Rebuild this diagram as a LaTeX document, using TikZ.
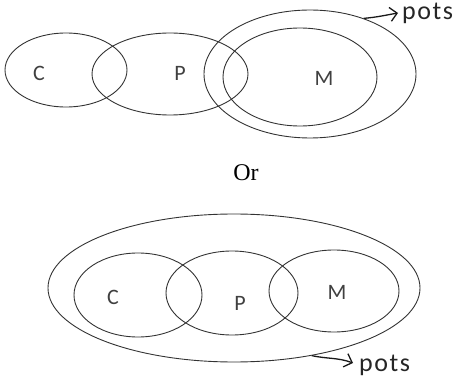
\documentclass[tikz,border=0pt]{standalone}
\usepackage{fontspec}
\setmainfont{Liberation Serif}
\newfontfamily\lblfont{Carlito}
\newfontfamily\potsfont[LetterSpace=6]{Carlito}
\usetikzlibrary{shapes.geometric,arrows.meta}
\tikzset{
  setell/.style={draw=black!80, line width=0.9pt, ellipse, inner sep=0pt},
  lbl/.style={font=\lblfont\fontsize{22}{22}\selectfont, text=black!75, inner sep=0pt},
  potslbl/.style={font=\potsfont\fontsize{26}{26}\selectfont, text=black!85, inner sep=0pt},
  potsarrow/.style={draw=black!90, line width=1.3pt, -{Straight Barb[length=7pt,width=14pt]}}
}
\begin{document}
\begin{tikzpicture}[x=1pt,y=-1pt]
\useasboundingbox (0,0) rectangle (461,385);
% top diagram
\node[setell, minimum width=122pt, minimum height=74pt] (cT) at (66,70) {};
\node[setell, minimum width=156pt, minimum height=82pt] (pT) at (170,74) {};
\node[setell, minimum width=154pt, minimum height=98pt] (mT) at (300,77) {};
\node[setell, minimum width=212pt, minimum height=128pt] (oT) at (310,74) {};
\node[lbl] (cTl) at (39,73) {C};
\node[lbl] (pTl) at (180,73) {P};
\node[lbl] (mTl) at (324,78) {M};
\node[potslbl, anchor=base west] (potsT) at (402,20) {pots};
\coordinate (potsTin) at ([xshift=-4pt,yshift=7pt]potsT.base west);
\draw[potsarrow] (oT.46) to[out=5,in=190] (potsTin);
% or
\node[font=\fontsize{24}{24}\selectfont, inner sep=0pt] (orl) at (246,173) {Or};
% bottom diagram
\node[setell, minimum width=372pt, minimum height=148pt] (oB) at (234,288) {};
\node[setell, minimum width=128pt, minimum height=84pt] (cB) at (138,295) {};
\node[setell, minimum width=132pt, minimum height=84pt] (pB) at (232,293) {};
\node[setell, minimum width=130pt, minimum height=82pt] (mB) at (334,291) {};
\node[lbl] (cBl) at (113,297) {C};
\node[lbl] (pBl) at (240,303) {P};
\node[lbl] (mBl) at (337,292) {M};
\node[potslbl, anchor=base west] (potsB) at (359,371) {pots};
\coordinate (potsBin) at ([xshift=-6pt,yshift=8pt]potsB.base west);
\draw[potsarrow] (oB.-41) to[out=-12,in=160] (potsBin);
\end{tikzpicture}
\end{document}
